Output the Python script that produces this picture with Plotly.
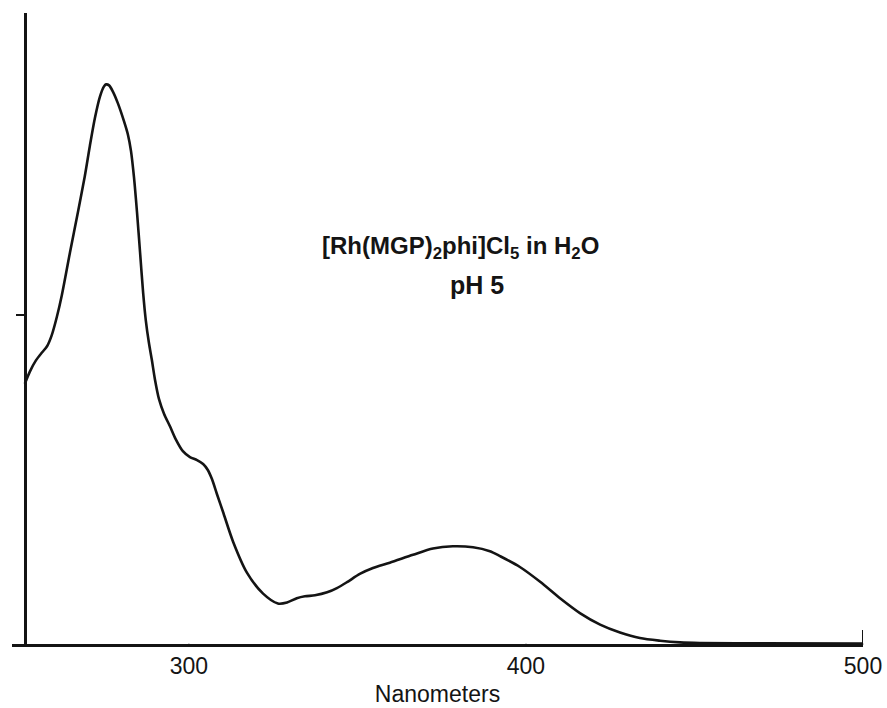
import plotly.graph_objects as go

# Absorption spectrum of [Rh(MGP)2phi]Cl5 in water, pH 5
wavelength_nm = [
    251.3, 252.8, 254.6, 256.4, 257.9, 259.3, 260.8, 262.3, 264.7, 267.1,
    269.1, 270.6, 272.1, 273.6, 274.8, 275.4, 276.3, 277.4, 278.9, 280.7,
    281.9, 282.8, 283.7, 284.6, 285.5, 286.4, 287.2, 288.1, 289.0, 289.9,
    291.1, 292.6, 294.4, 296.1, 298.2, 300.3, 302.4, 304.2, 305.6, 306.8,
    308.3, 310.1, 313.1, 317.2, 322.0, 326.4, 329.1, 332.0, 334.4, 337.4,
    341.0, 343.9, 346.9, 350.7, 354.6, 359.6, 366.5, 372.4, 378.3, 384.3,
    389.3, 392.3, 398.2, 404.2, 410.1, 416.0, 422.0, 427.9, 433.8, 439.8,
    445.7, 451.6, 470.0, 500.0,
]
absorbance = [
    0.791, 0.828, 0.862, 0.886, 0.905, 0.939, 0.994, 1.061, 1.190, 1.315,
    1.422, 1.514, 1.599, 1.664, 1.695, 1.701, 1.698, 1.680, 1.644, 1.590,
    1.548, 1.499, 1.418, 1.311, 1.190, 1.069, 0.984, 0.917, 0.863, 0.805,
    0.745, 0.700, 0.661, 0.622, 0.586, 0.568, 0.559, 0.547, 0.529, 0.502,
    0.456, 0.402, 0.311, 0.217, 0.153, 0.123, 0.126, 0.139, 0.145, 0.148,
    0.157, 0.170, 0.188, 0.213, 0.231, 0.247, 0.271, 0.290, 0.297, 0.294,
    0.282, 0.267, 0.234, 0.189, 0.139, 0.094, 0.059, 0.035, 0.018, 0.010,
    0.005, 0.003, 0.002, 0.001,
]

x_ticks = [300, 400, 500]
x_tick_labels = ["300", "400", "500"]
y_ticks = [1.0]
x_range = [247.5, 500]
y_range = [0, 1.918]

title_line1 = "[Rh(MGP)<sub>2</sub>phi]Cl<sub>5</sub> in H<sub>2</sub>O"
title_line2 = "pH 5"

ink = "#141414"
sans = "Liberation Sans, Arial, sans-serif"

W, H = 887, 708
M = dict(l=12, r=24, t=13, b=64)
px_per_unit = (H - M["t"] - M["b"]) / (y_range[1] - y_range[0])

# tick marks on the wavelength scale: short strokes below the axis,
# the last one (end of scale) also crosses above it
tick_down = [7 / px_per_unit] * len(x_ticks)
tick_up = [0.0] * (len(x_ticks) - 1) + [14 / px_per_unit]

fig = go.Figure()
fig.add_trace(go.Scatter(
    x=wavelength_nm, y=absorbance, mode="lines",
    line=dict(color=ink, width=2.6, shape="spline", smoothing=0.8),
    hoverinfo="skip", showlegend=False,
))
fig.add_trace(go.Scatter(
    x=x_ticks, y=[y_range[0]] * len(x_ticks), mode="markers",
    marker=dict(size=1, color=ink),
    error_y=dict(type="data", symmetric=False, array=tick_up,
                 arrayminus=tick_down, width=0, thickness=2, color=ink),
    cliponaxis=False, hoverinfo="skip", showlegend=False,
))

axis_font = dict(family=sans, size=23, color=ink)

fig.update_layout(
    width=W, height=H,
    margin=dict(**M, autoexpand=False),
    paper_bgcolor="white", plot_bgcolor="white",
    xaxis=dict(
        range=x_range, showgrid=False, zeroline=False, automargin=False,
        showline=True, linecolor=ink, linewidth=2.5,
        tickmode="array", tickvals=x_ticks, ticktext=x_tick_labels,
        ticks="", tickfont=axis_font,
        title=dict(text="Nanometers", font=axis_font, standoff=8),
    ),
    yaxis=dict(
        range=y_range, showgrid=False, zeroline=False, automargin=False,
        anchor="free", position=13 / 851,
        showline=True, linecolor=ink, linewidth=2.5,
        tickmode="array", tickvals=y_ticks, showticklabels=False,
        ticks="outside", ticklen=8, tickwidth=2, tickcolor=ink,
    ),
    annotations=[
        dict(x=380.5, y=1.205, xref="x", yref="y", text=title_line1,
             showarrow=False,
             font=dict(family=sans, size=24, color=ink, weight="bold")),
        dict(x=385.5, y=1.09, xref="x", yref="y", text=title_line2,
             showarrow=False,
             font=dict(family=sans, size=25, color=ink, weight="bold")),
    ],
)

fig.write_html("out.html")
